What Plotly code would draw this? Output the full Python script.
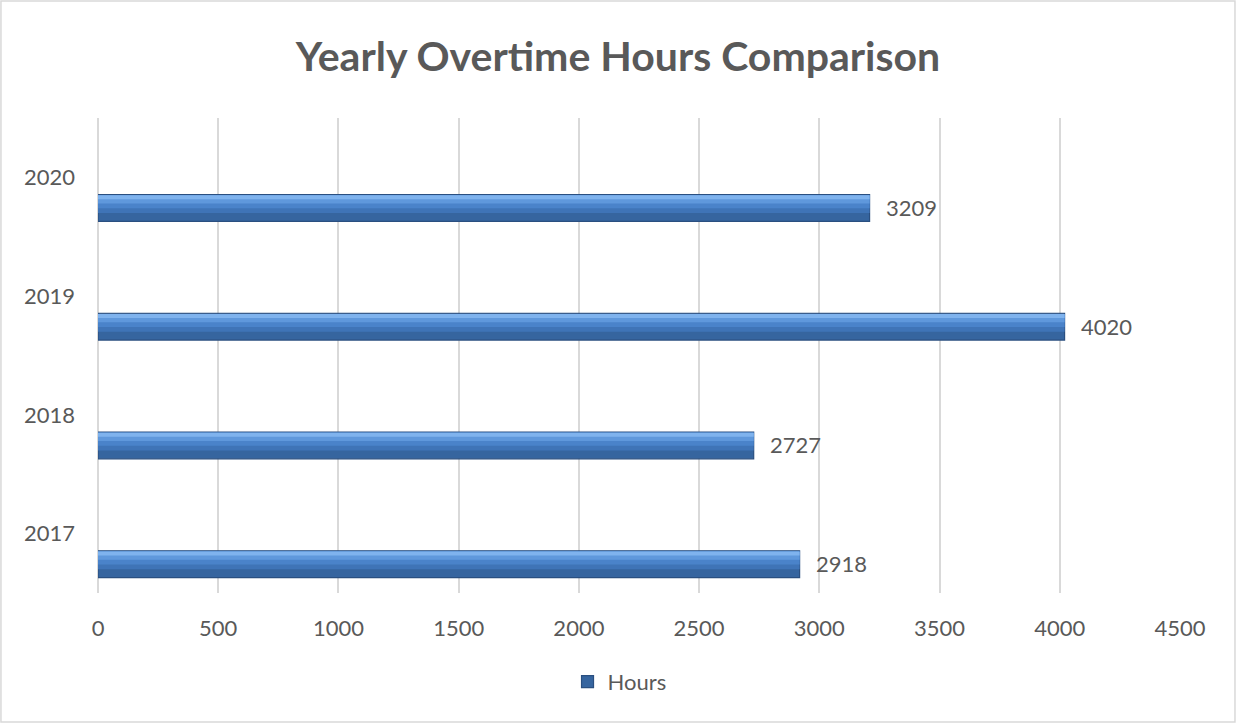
import plotly.graph_objects as go

years = ["2017", "2018", "2019", "2020"]
hours = [2918, 2727, 4020, 3209]
x_ticks = [0, 500, 1000, 1500, 2000, 2500, 3000, 3500, 4000, 4500]

TEXT = "#595959"
FONT = "Lato, 'Open Sans', sans-serif"

fig = go.Figure()

# base bar (darker body with dark outline)
fig.add_trace(go.Bar(
    y=years, x=hours, orientation="h", name="Hours",
    width=0.226, offset=-0.37,
    marker=dict(color="#36659F", line=dict(color="#2A4F80", width=1.2)),
    showlegend=True, hoverinfo="x+y"
))
# lighter bands stacked toward the top edge to fake the gradient / bevel
bands = [(0.15, -0.30, "#3F74B7"), (0.11, -0.26, "#4A83CA"), (0.07, -0.22, "#5F98DC"), (0.035, -0.185, "#7FB3EE")]
for w, off, col in bands:
    fig.add_trace(go.Bar(
        y=years, x=hours, orientation="h",
        width=w, offset=off,
        marker=dict(color=col, line=dict(width=0)),
        showlegend=False, hoverinfo="skip"
    ))

for i, h in enumerate(hours):
    fig.add_annotation(
        x=h, y=i, text=str(h), showarrow=False,
        xanchor="left", xshift=14, yshift=-30,
        font=dict(family=FONT, size=22, color=TEXT)
    )

# outer chart border
fig.add_shape(type="rect", xref="paper", yref="paper",
              x0=-0.0897, x1=1.0508, y0=-0.2716, y1=1.2463,
              line=dict(color="#D9D9D9", width=1.5))

fig.update_layout(
    title=dict(text="<b>Yearly Overtime Hours Comparison</b>", x=0.5, xanchor="center",
               y=0.922, yanchor="middle",
               font=dict(family=FONT, size=41, color=TEXT)),
    barmode="overlay",
    paper_bgcolor="white",
    plot_bgcolor="white",
    width=1236, height=723,
    margin=dict(l=98, r=56, t=118, b=130),
    font=dict(family=FONT, color=TEXT, size=22),
    xaxis=dict(range=[0, 4500], tickvals=x_ticks, showgrid=True, gridcolor="#D9D9D9",
               gridwidth=1.5, zeroline=True, zerolinecolor="#D9D9D9", zerolinewidth=1.5,
               showline=False, ticklabelstandoff=20, tickfont=dict(size=22, color=TEXT)),
    yaxis=dict(type="category", categoryorder="array", categoryarray=years,
               range=[-0.5, 3.5], showgrid=False, showline=False,
               ticklabelstandoff=22, tickfont=dict(size=22, color=TEXT)),
    legend=dict(orientation="h", x=0.482, xanchor="center", y=-0.187, yanchor="middle",
                font=dict(size=22, color=TEXT)),
)

fig.write_html("out.html", config={"displayModeBar": False},
               post_script="document.body.style.margin='0';")
